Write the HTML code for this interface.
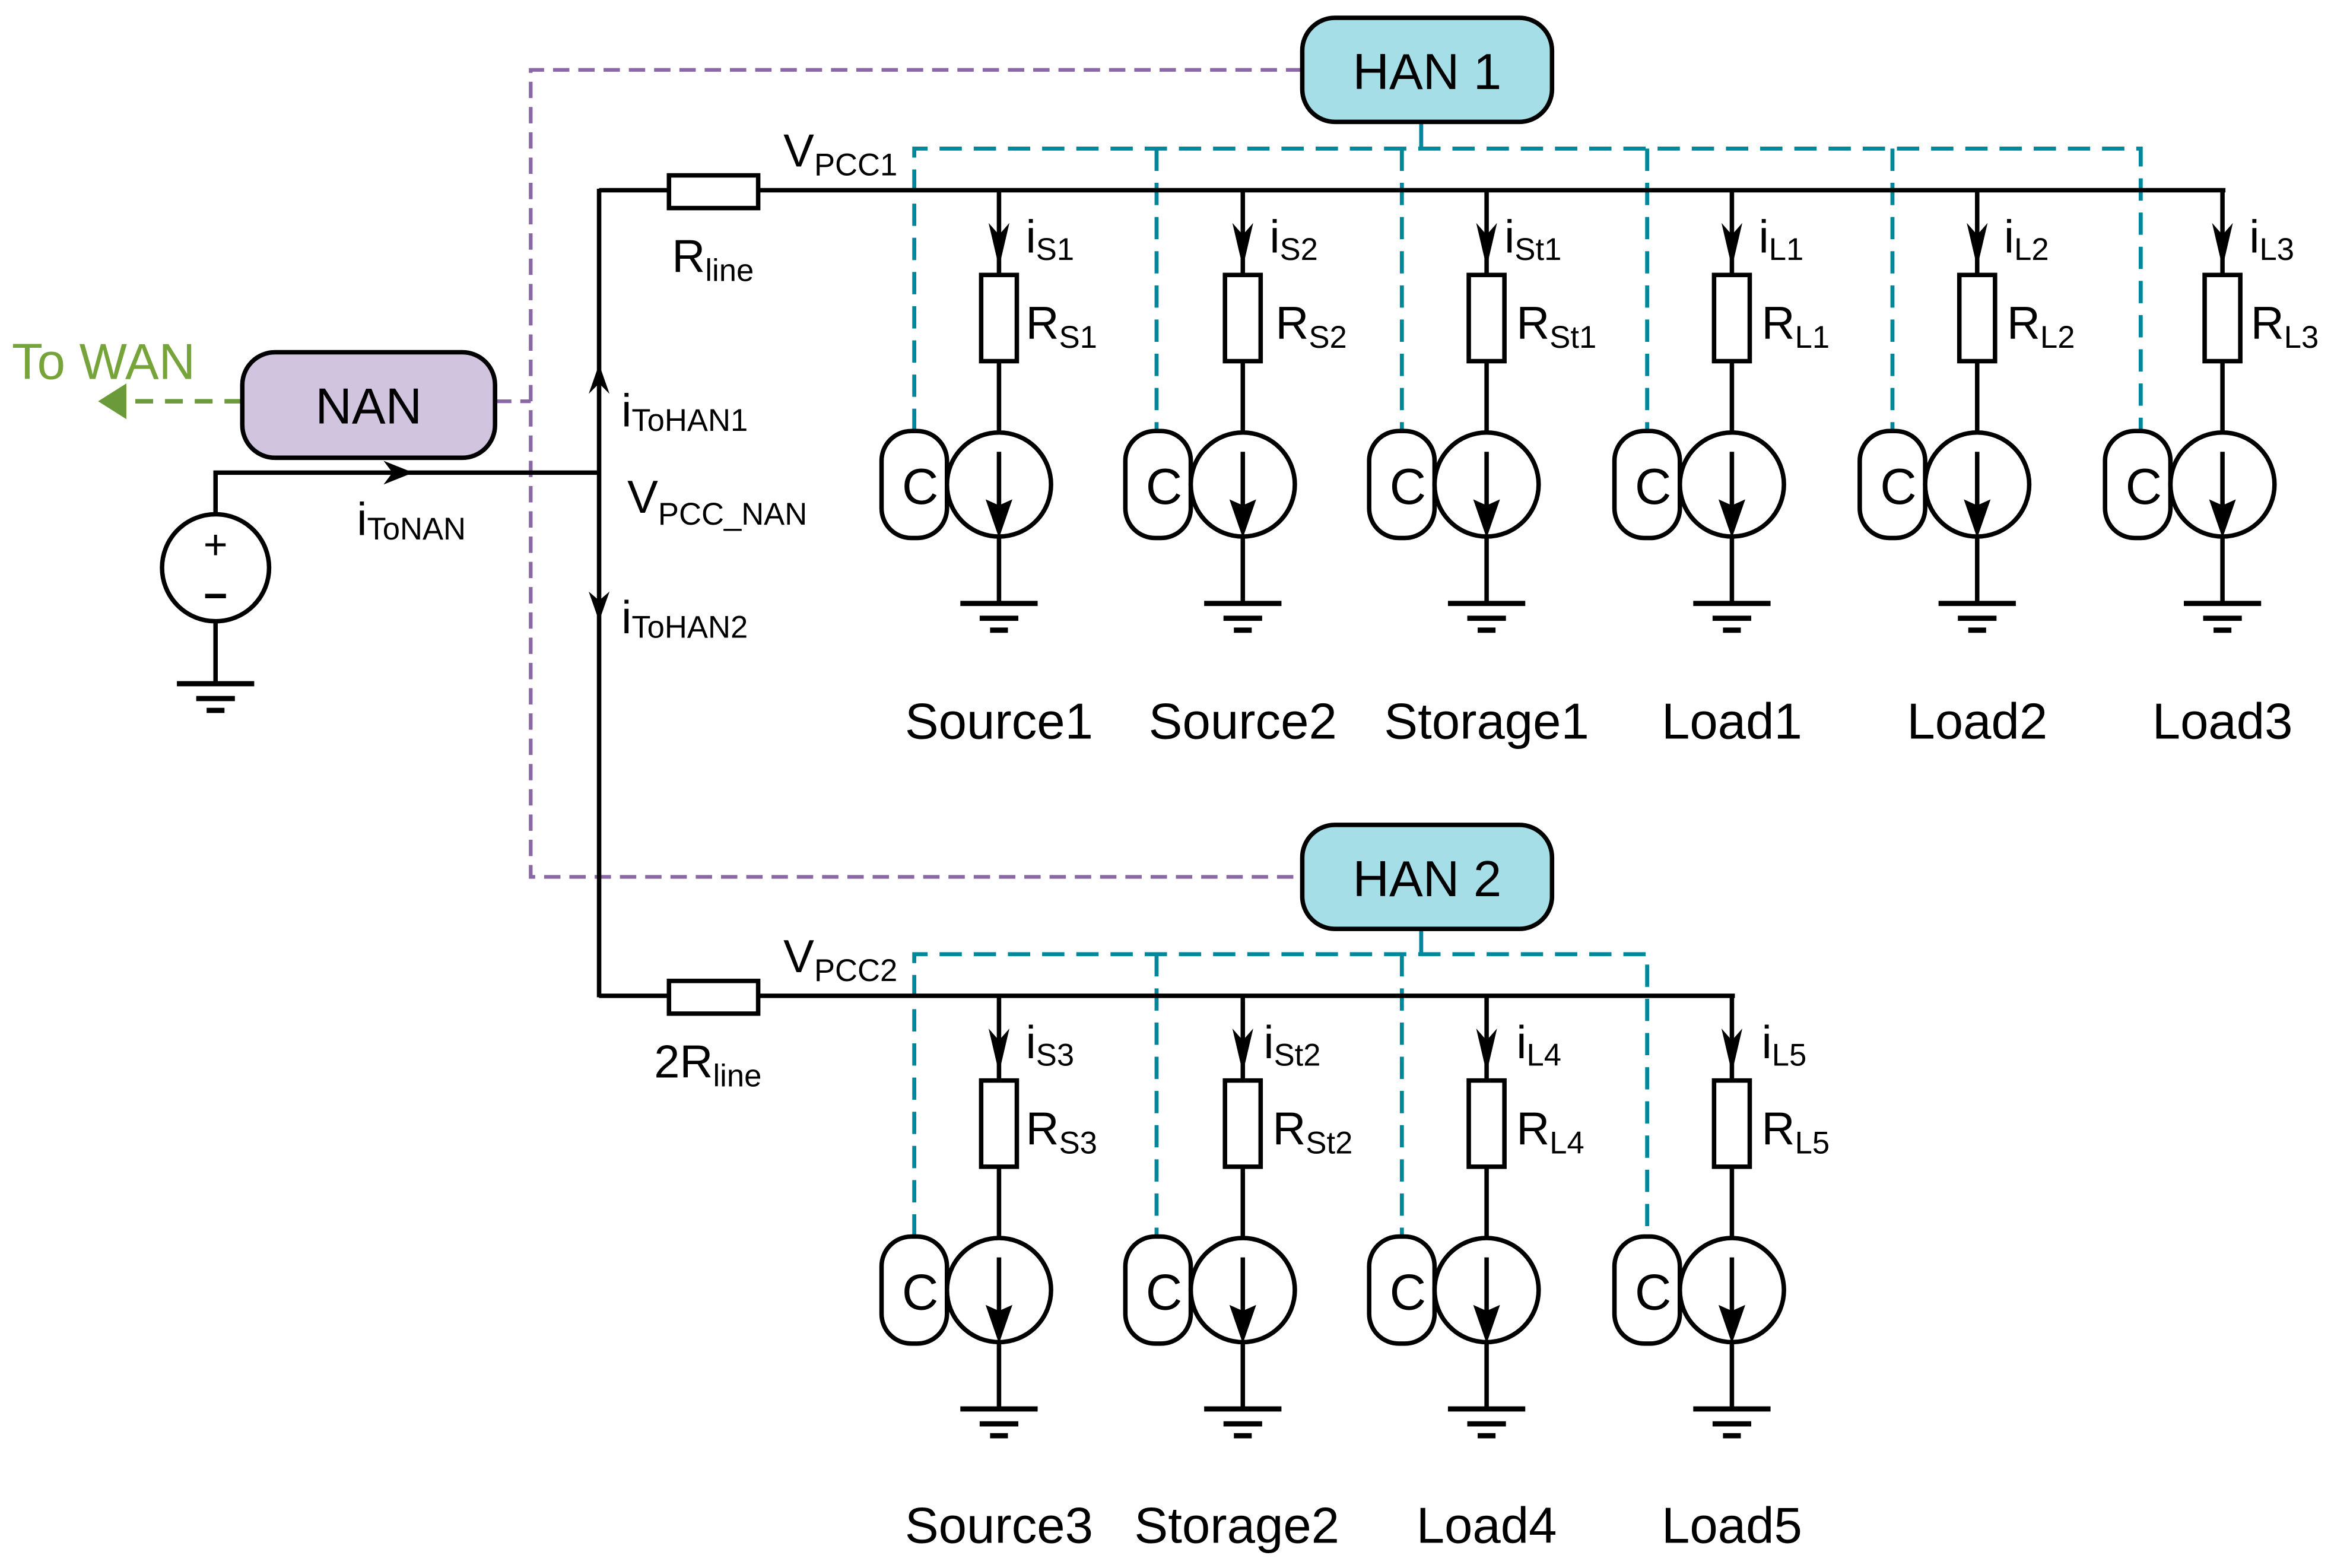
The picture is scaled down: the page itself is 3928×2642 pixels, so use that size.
<!DOCTYPE html>
<html><head><meta charset="utf-8"><style>
html,body{margin:0;padding:0;background:#fff}
svg{display:block}
text{font-family:"Liberation Sans Narrow","Liberation Sans",sans-serif;fill:#000}
</style></head><body>
<svg width="3928" height="2642" viewBox="0 0 1568 1055" preserveAspectRatio="none" xmlns="http://www.w3.org/2000/svg">
<defs>
<g id="br">
  <line x1="0" y1="0" x2="0" y2="57" stroke="#000" stroke-width="3"/>
  <polygon points="-7,22 0,30 7,22 0,52" fill="#000"/>
  <rect x="-12" y="57" width="24" height="58" fill="#fff" stroke="#000" stroke-width="3"/>
  <line x1="0" y1="115" x2="0" y2="163" stroke="#000" stroke-width="3"/>
  <rect x="-79" y="162" width="44" height="72" rx="20" fill="#fff" stroke="#000" stroke-width="3"/>
  <circle cx="0" cy="198" r="35" fill="#fff" stroke="#000" stroke-width="3"/>
  <line x1="0" y1="176" x2="0" y2="215" stroke="#000" stroke-width="3"/>
  <polygon points="-9,208 0,212 9,208 0,234" fill="#000"/>
  <line x1="0" y1="233" x2="0" y2="278" stroke="#000" stroke-width="3"/>
  <line x1="-26" y1="278" x2="26" y2="278" stroke="#000" stroke-width="3.5"/>
  <line x1="-13" y1="288" x2="13" y2="288" stroke="#000" stroke-width="3.5"/>
  <line x1="-6" y1="296" x2="6" y2="296" stroke="#000" stroke-width="3.5"/>
  <text x="-53" y="211" font-size="34" text-anchor="middle">C</text>
</g>
</defs>

<!-- purple comm lines -->
<g stroke="#8a67a5" stroke-width="2.5" fill="none" stroke-dasharray="11,6">
  <polyline points="876,47 357,47 357,590 876,590"/>
  <line x1="333" y1="270" x2="357" y2="270"/>
</g>
<!-- green to WAN -->
<line x1="163" y1="270" x2="85" y2="270" stroke="#6a9a3a" stroke-width="3" stroke-dasharray="12,8"/>
<polygon points="66,270 85,258 85,282" fill="#6a9a3a"/>
<text x="8" y="255" font-size="34" style="fill:#77a33b">To WAN</text>

<!-- teal comm lines -->
<g stroke="#00879c" stroke-width="2.7" fill="none">
  <line x1="956" y1="82" x2="956" y2="100"/>
  <line x1="956" y1="625" x2="956" y2="642"/>
  <g stroke-dasharray="15,8">
    <polyline points="615,290 615,100 1440,100 1440,290"/>
    <line x1="778" y1="100" x2="778" y2="290"/>
    <line x1="943" y1="100" x2="943" y2="290"/>
    <line x1="1108" y1="100" x2="1108" y2="290"/>
    <line x1="1273" y1="100" x2="1273" y2="290"/>
    <polyline points="615,832 615,642 1108,642 1108,832"/>
    <line x1="778" y1="642" x2="778" y2="832"/>
    <line x1="943" y1="642" x2="943" y2="832"/>
  </g>
</g>

<!-- main wires -->
<g stroke="#000" stroke-width="3" fill="none">
  <line x1="403" y1="128" x2="1497" y2="128"/>
  <line x1="403" y1="670" x2="1167" y2="670"/>
  <line x1="403" y1="127" x2="403" y2="671"/>
  <polyline points="145,346 145,318 403,318"/>
  <line x1="145" y1="418" x2="145" y2="460"/>
  <line x1="119" y1="460" x2="171" y2="460" stroke-width="3.5"/>
  <line x1="132" y1="470" x2="158" y2="470" stroke-width="3.5"/>
  <line x1="139" y1="478" x2="151" y2="478" stroke-width="3.5"/>
</g>
<rect x="450" y="118" width="60" height="22" fill="#fff" stroke="#000" stroke-width="3"/>
<rect x="450" y="660" width="60" height="22" fill="#fff" stroke="#000" stroke-width="3"/>
<ellipse cx="145" cy="382" rx="36" ry="36" fill="#fff" stroke="#000" stroke-width="3"/>
<text x="145" y="376" font-size="28" text-anchor="middle">+</text>
<line x1="138" y1="401" x2="152" y2="401" stroke="#000" stroke-width="3"/>
<polygon points="258,310 278,318 258,326 264,318" fill="#000"/>
<polygon points="396,265 403,245 410,265 403,258" fill="#000"/>
<polygon points="396,398 403,404 410,398 403,418" fill="#000"/>

<!-- boxes -->
<rect x="163" y="237" width="170" height="71" rx="22" fill="#d1c4df" stroke="#000" stroke-width="3"/>
<text x="248" y="285" font-size="34" text-anchor="middle">NAN</text>
<rect x="876" y="12" width="168" height="70" rx="22" fill="#a6dee8" stroke="#000" stroke-width="3"/>
<text x="960" y="60" font-size="34" text-anchor="middle">HAN 1</text>
<rect x="876" y="555" width="168" height="70" rx="22" fill="#a6dee8" stroke="#000" stroke-width="3"/>
<text x="960" y="603" font-size="34" text-anchor="middle">HAN 2</text>

<!-- branches -->
<use href="#br" x="672" y="128"/>
<use href="#br" x="836" y="128"/>
<use href="#br" x="1000" y="128"/>
<use href="#br" x="1165" y="128"/>
<use href="#br" x="1330" y="128"/>
<use href="#br" x="1495" y="128"/>
<use href="#br" x="672" y="670"/>
<use href="#br" x="836" y="670"/>
<use href="#br" x="1000" y="670"/>
<use href="#br" x="1165" y="670"/>

<!-- labels -->
<g font-size="31">
  <text x="527" y="112">V<tspan font-size="21" dy="6">PCC1</tspan></text>
  <text x="527" y="654">V<tspan font-size="21" dy="6">PCC2</tspan></text>
  <text x="452" y="183">R<tspan font-size="21" dy="6">line</tspan></text>
  <text x="440" y="725">2R<tspan font-size="21" dy="6">line</tspan></text>
  <text x="418" y="287">i<tspan font-size="21" dy="3">ToHAN1</tspan></text>
  <text x="418" y="426">i<tspan font-size="21" dy="3">ToHAN2</tspan></text>
  <text x="240" y="360">i<tspan font-size="21" dy="3">ToNAN</tspan></text>
  <text x="422" y="345">V<tspan font-size="21" dy="8">PCC_NAN</tspan></text>

  <text x="690" y="170">i<tspan font-size="21" dy="5">S1</tspan></text>
  <text x="854" y="170">i<tspan font-size="21" dy="5">S2</tspan></text>
  <text x="1012" y="170">i<tspan font-size="21" dy="5">St1</tspan></text>
  <text x="1183" y="170">i<tspan font-size="21" dy="5">L1</tspan></text>
  <text x="1348" y="170">i<tspan font-size="21" dy="5">L2</tspan></text>
  <text x="1513" y="170">i<tspan font-size="21" dy="5">L3</tspan></text>
  <text x="690" y="228">R<tspan font-size="21" dy="6">S1</tspan></text>
  <text x="858" y="228">R<tspan font-size="21" dy="6">S2</tspan></text>
  <text x="1020" y="228">R<tspan font-size="21" dy="6">St1</tspan></text>
  <text x="1185" y="228">R<tspan font-size="21" dy="6">L1</tspan></text>
  <text x="1350" y="228">R<tspan font-size="21" dy="6">L2</tspan></text>
  <text x="1514" y="228">R<tspan font-size="21" dy="6">L3</tspan></text>

  <text x="690" y="712">i<tspan font-size="21" dy="5">S3</tspan></text>
  <text x="850" y="712">i<tspan font-size="21" dy="5">St2</tspan></text>
  <text x="1020" y="712">i<tspan font-size="21" dy="5">L4</tspan></text>
  <text x="1185" y="712">i<tspan font-size="21" dy="5">L5</tspan></text>
  <text x="690" y="770">R<tspan font-size="21" dy="6">S3</tspan></text>
  <text x="856" y="770">R<tspan font-size="21" dy="6">St2</tspan></text>
  <text x="1020" y="770">R<tspan font-size="21" dy="6">L4</tspan></text>
  <text x="1185" y="770">R<tspan font-size="21" dy="6">L5</tspan></text>
</g>
<g font-size="34" text-anchor="middle">
  <text x="672" y="497">Source1</text>
  <text x="836" y="497">Source2</text>
  <text x="1000" y="497">Storage1</text>
  <text x="1165" y="497">Load1</text>
  <text x="1330" y="497">Load2</text>
  <text x="1495" y="497">Load3</text>
  <text x="672" y="1038">Source3</text>
  <text x="832" y="1038">Storage2</text>
  <text x="1000" y="1038">Load4</text>
  <text x="1165" y="1038">Load5</text>
</g>
</svg>
</body></html>
